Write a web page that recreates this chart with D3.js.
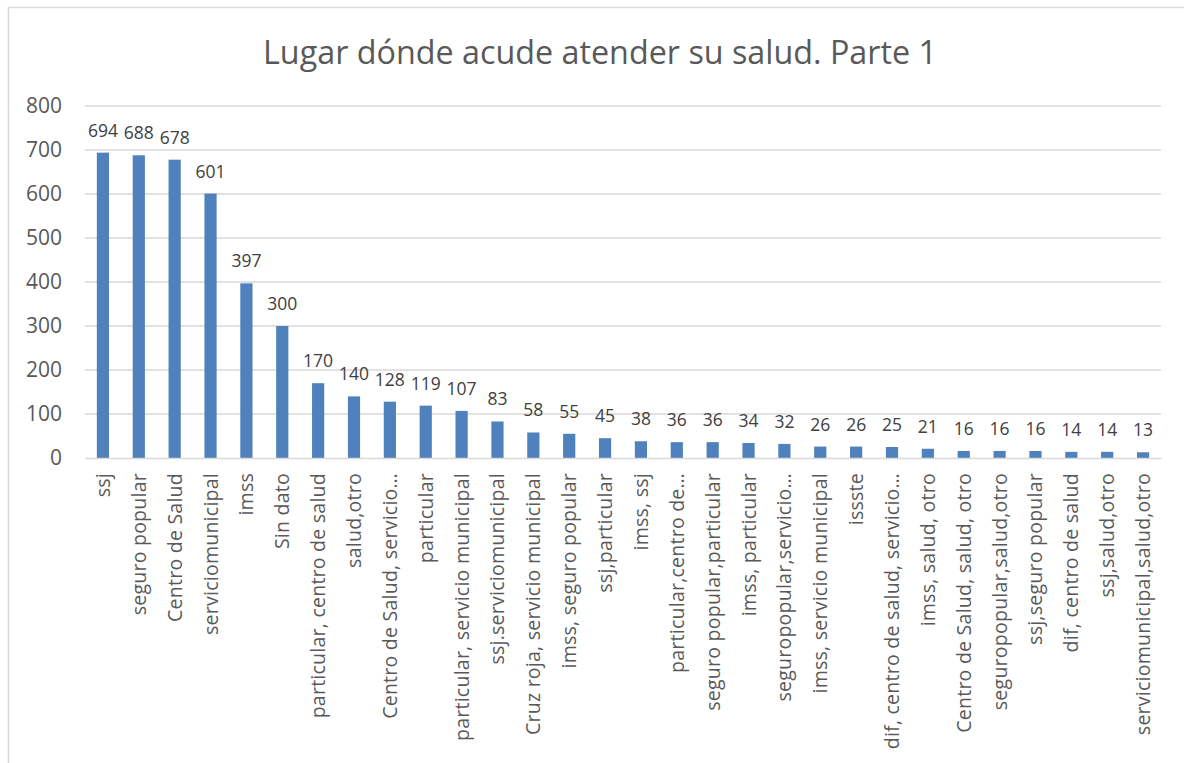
<!DOCTYPE html>
<html>
<head>
<meta charset="utf-8">
<script src="https://cdn.jsdelivr.net/npm/d3@7"></script>
<style>
  body { margin: 0; background: #fff; }
  svg text { font-family: "Open Sans", "Noto Sans", sans-serif; }
</style>
</head>
<body>
<div id="grafico"></div>
<script>
// datos
const lugares = [
  "ssj", "seguro popular", "Centro de Salud", "serviciomunicipal", "imss", "Sin dato",
  "particular, centro de salud", "salud,otro", "Centro de Salud,  servicio…", "particular",
  "particular, servicio municipal", "ssj.serviciomunicipal", "Cruz roja, servicio municipal",
  "imss, seguro popular", "ssj,particular", "imss, ssj", "particular,centro de…",
  "seguro popular,particular", "imss, particular", "seguropopular,servicio…",
  "imss, servicio municipal", "issste", "dif, centro de salud, servicio…", "imss, salud, otro",
  "Centro de Salud, salud, otro", "seguropopular,salud,otro", "ssj,seguro popular",
  "dif, centro de salud", "ssj,salud,otro", "serviciomunicipal,salud,otro"
];
const cantidades = [694, 688, 678, 601, 397, 300, 170, 140, 128, 119, 107, 83, 58, 55, 45,
  38, 36, 36, 34, 32, 26, 26, 25, 21, 16, 16, 16, 14, 14, 13];
const ticksY = [0, 100, 200, 300, 400, 500, 600, 700, 800];
const titulo = "Lugar dónde acude atender su salud. Parte 1";

const W = 1184, H = 763;
const margin = {top: 106, right: 23, bottom: 305, left: 85};
const width = W - margin.left - margin.right;
const height = H - margin.top - margin.bottom;

const svg = d3.select("#grafico").append("svg")
  .attr("width", W).attr("height", H);

// borde del area del grafico
svg.append("rect")
  .attr("x", 8.5).attr("y", 7.5)
  .attr("width", W + 20).attr("height", H + 20)
  .attr("fill", "none").attr("stroke", "#d9d9d9").attr("stroke-width", 1.5);

svg.append("text")
  .attr("x", 600).attr("y", 64)
  .attr("text-anchor", "middle")
  .attr("font-size", "32.3px")
  .attr("fill", "#595959")
  .text(titulo);

const g = svg.append("g").attr("transform", `translate(${margin.left},${margin.top})`);

const x = d3.scaleBand().domain(lugares).range([0, width]).paddingInner(0.66).paddingOuter(0.33);
const y = d3.scaleLinear().domain([0, 800]).range([height, 0]);

// lineas de cuadricula
g.append("g")
  .selectAll("line")
  .data(ticksY.filter(d => d > 0))
  .enter().append("line")
  .attr("x1", 0).attr("x2", width)
  .attr("y1", d => y(d)).attr("y2", d => y(d))
  .attr("stroke", "#d9d9d9").attr("stroke-width", 1.3);

// eje y
const ejeY = g.append("g")
  .call(d3.axisLeft(y).tickValues(ticksY).tickSize(0).tickPadding(23));
ejeY.select(".domain").remove();
ejeY.selectAll("text").attr("font-size", "21px").attr("fill", "#595959");

// barras
g.selectAll(".bar")
  .data(cantidades)
  .enter().append("rect")
  .attr("class", "bar")
  .attr("x", (d, i) => x(lugares[i]))
  .attr("y", d => y(d))
  .attr("width", x.bandwidth())
  .attr("height", d => height - y(d))
  .attr("fill", "#4f81bd");

// etiquetas de datos
g.selectAll(".etq")
  .data(cantidades)
  .enter().append("text")
  .attr("class", "etq")
  .attr("x", (d, i) => x(lugares[i]) + x.bandwidth() / 2)
  .attr("y", d => y(d) - 16)
  .attr("text-anchor", "middle")
  .attr("font-size", "17.5px")
  .attr("fill", "#404040")
  .text(d => d);

// eje x
const ejeX = g.append("g")
  .attr("transform", `translate(0,${height})`)
  .call(d3.axisBottom(x).tickSize(0).tickPadding(0));
ejeX.select(".domain").attr("stroke", "#d9d9d9").attr("stroke-width", 1.3);
ejeX.selectAll("text")
  .attr("font-size", "19.5px")
  .attr("letter-spacing", "0.25px")
  .attr("fill", "#595959")
  .attr("text-anchor", "end")
  .attr("dy", null)
  .attr("transform", "translate(7,15) rotate(-90)");
</script>
</body>
</html>
